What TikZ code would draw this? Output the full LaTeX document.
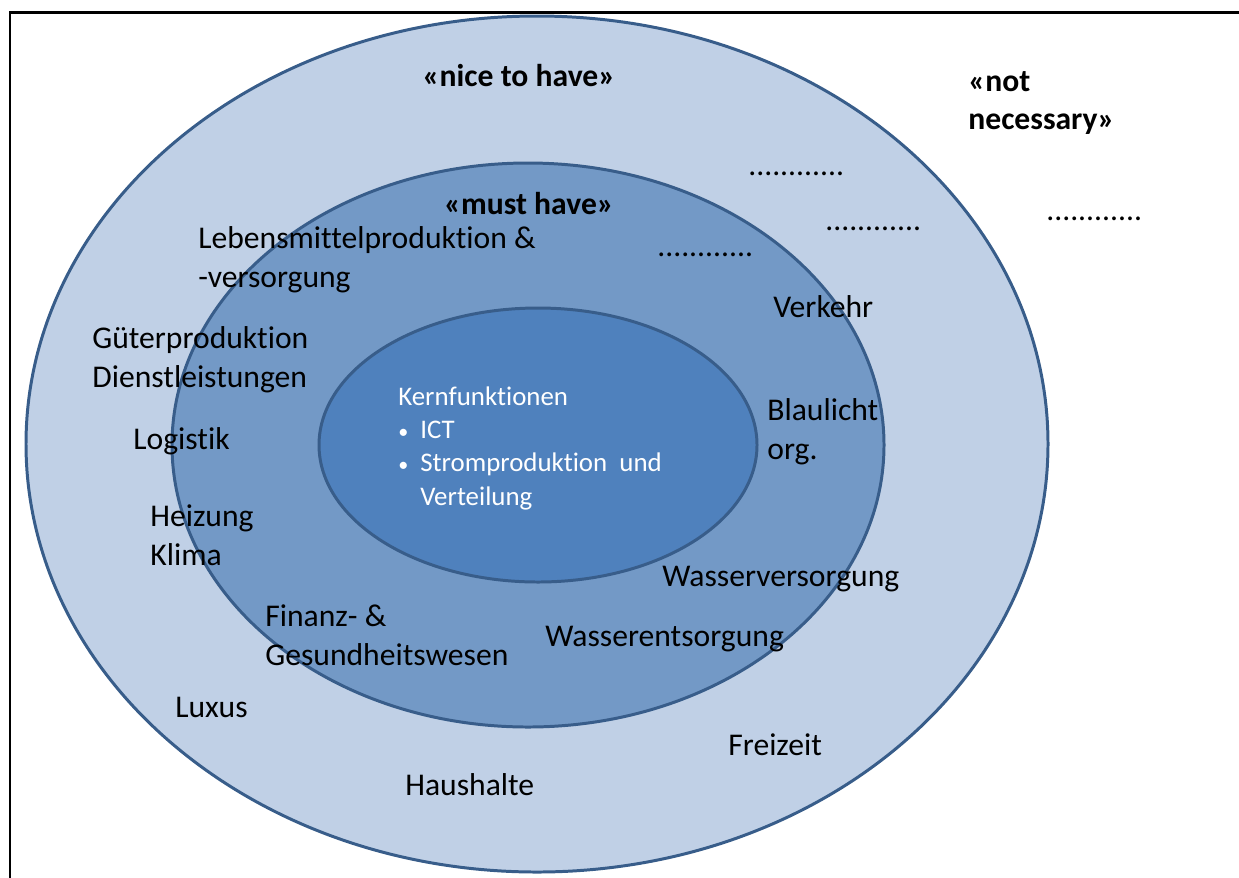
\documentclass[tikz,border=0pt]{standalone}
\usepackage{fontspec}
\setmainfont{Carlito}[Ligatures=CommonOff]
\usepackage{tikz}
\definecolor{ringline}{HTML}{385D8A}
\definecolor{nicefill}{HTML}{C0D0E6}
\definecolor{mustfill}{HTML}{7399C6}
\definecolor{corefill}{HTML}{4F81BD}
\tikzset{%
  ring/.style      = {draw=ringline, line width=1.7pt},%
  label/.style     = {anchor=west, align=left, inner sep=0pt,%
                      font=\fontsize{18}{22}\selectfont},%
  heading/.style   = {inner sep=0pt, align=left,%
                      font=\fontsize{18}{22}\selectfont\bfseries},%
  dots/.style      = {anchor=west, inner sep=0pt, font=\fontsize{18}{22}\selectfont},%
  corelabel/.style = {anchor=north west, align=left, inner sep=0pt, text=white,%
                      font=\fontsize{15.3}{19}\selectfont}%
}
\newcommand{\bul}{\makebox[12.5pt][l]{\scalebox{0.75}{\textbullet}}}

\begin{document}
\begin{tikzpicture}[x=0.02cm,y=-0.02cm]
  \useasboundingbox (0,0) rectangle (1239,877);
  \clip (0,0) rectangle (1239,877);
  \draw [line width=1.7pt] (10,12) rectangle (1300,950);
  % the three rings
  \fill [nicefill] (537,444) ellipse [x radius=511, y radius=428];
  \draw [ring] (537,444) ellipse [x radius=511, y radius=428];
  \fill [mustfill] (528,445) ellipse [x radius=356, y radius=282];
  \draw [ring] (528,445) ellipse [x radius=356, y radius=282];
  \fill [corefill] (538,445) ellipse [x radius=219, y radius=137];
  \draw [ring] (538,445) ellipse [x radius=219, y radius=137];

  \node [heading] (nice) at (519,76) {«nice to have»};
  \node [heading, anchor=west] (notnec) at (968,103) {«not\\necessary»};
  \node [heading] (must) at (529,204) {«must have»};

  \node [dots] (dotsa) at (748,174) {............};
  \node [dots] (dotsb) at (825,229) {............};
  \node [dots] (dotsc) at (1046,219) {............};
  \node [dots] (dotsd) at (657,255) {............};

  \node [label] (food)    at (198,260) {Lebensmittelproduktion \&\\-versorgung};
  \node [label] (goods)   at (92,360)  {Güterproduktion\\Dienstleistungen};
  \node [label] (logist)  at (133,441) {Logistik};
  \node [label] (heat)    at (150,535) {Heizung\\Klima};
  \node [label] (finance) at (265,635) {Finanz- \&\\Gesundheitswesen};
  \node [label] (luxus)   at (175,707) {Luxus};
  \node [label] (house)   at (405,785) {Haushalte};
  \node [label] (leisure) at (728,745) {Freizeit};
  \node [label] (wastew)  at (545,639) {Wasserentsorgung};
  \node [label] (water)   at (662,579) {Wasserversorgung};
  \node [label] (blue)    at (767,432) {Blaulicht\\org.};
  \node [label] (traffic) at (773,307) {Verkehr};

  \node [corelabel] (core) at (398,386) {Kernfunktionen\\
    \bul ICT\\
    \bul Stromproduktion\ \ und\\
    \hspace*{12.5pt}Verteilung};
\end{tikzpicture}
\end{document}
